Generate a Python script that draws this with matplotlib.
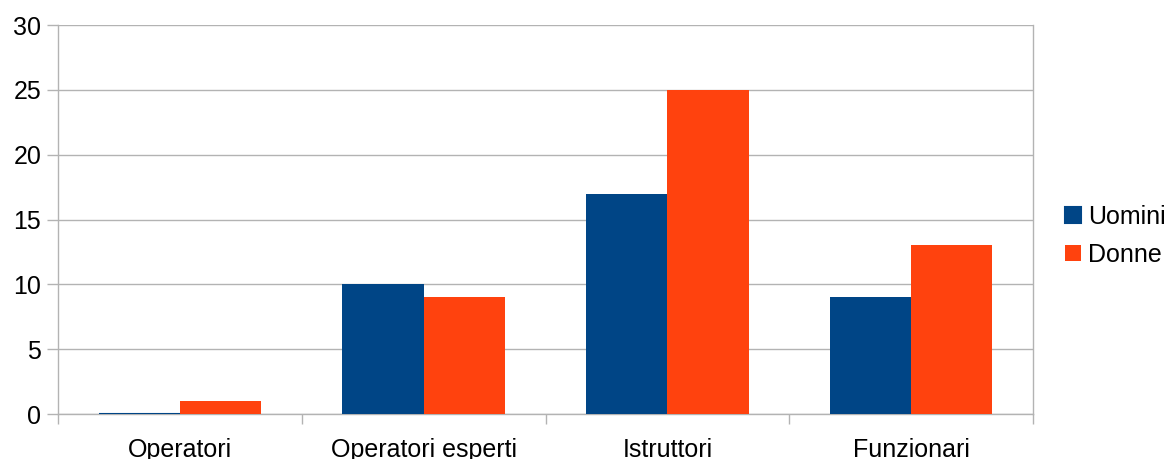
import matplotlib
matplotlib.use("Agg")
import matplotlib.pyplot as plt
import numpy as np

plt.rcParams['font.family'] = ['Liberation Sans', 'DejaVu Sans']

categories = ["Operatori", "Operatori esperti", "Istruttori", "Funzionari"]
uomini = [0, 10, 17, 9]
donne = [1, 9, 25, 13]
y_ticks = [0, 5, 10, 15, 20, 25, 30]

c_uomini = "#004586"
c_donne = "#ff420e"
grid_c = "#b3b3b3"

fig = plt.figure(figsize=(11.73, 4.59), dpi=100)
ax = fig.add_axes([58/1173, 1 - 414/459, (1033 - 58)/1173, (414 - 25)/459])

x = np.arange(len(categories))
w = 1/3
lw_u = [1.5 if v == 0 else 0 for v in uomini]
lw_d = [1.5 if v == 0 else 0 for v in donne]
ax.bar(x - w/2, uomini, w, color=c_uomini, edgecolor=c_uomini, linewidth=lw_u, label="Uomini", zorder=3)
ax.bar(x + w/2, donne, w, color=c_donne, edgecolor=c_donne, linewidth=lw_d, label="Donne", zorder=3)

ax.set_xlim(-0.5, len(categories) - 0.5)
ax.set_ylim(0, 30)
ax.set_yticks(y_ticks)
ax.yaxis.grid(True, color=grid_c, linewidth=1)
ax.set_axisbelow(True)

# category boundaries as major ticks, labels on minor ticks at centres
ax.set_xticks(np.arange(len(categories) + 1) - 0.5)
ax.set_xticklabels([])
ax.set_xticks(x, minor=True)
ax.set_xticklabels(categories, minor=True)
ax.tick_params(axis='x', which='major', length=7.5, color=grid_c, width=1)
ax.tick_params(axis='x', which='minor', length=0, labelsize=18, pad=17.5)
ax.tick_params(axis='y', length=8, color=grid_c, width=1, labelsize=18, pad=4)

for s in ax.spines.values():
    s.set_color(grid_c)
    s.set_linewidth(1)
ax.spines['top'].set_visible(False)

leg = fig.legend(loc='center left', bbox_to_anchor=(1065/1173, 1 - 236/459),
                 frameon=False, fontsize=18, handlelength=0.62, handleheight=0.62,
                 handletextpad=0.32, labelspacing=0.55, borderaxespad=0, borderpad=0)

fig.savefig("out.png", dpi=100)
